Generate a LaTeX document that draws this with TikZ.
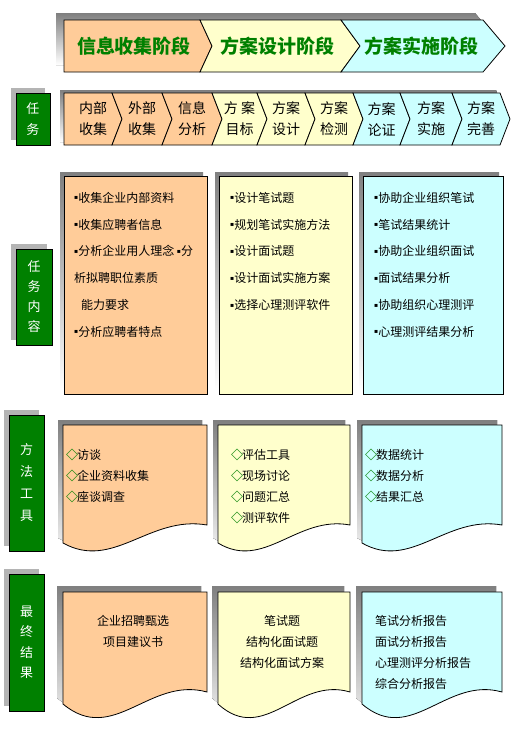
\documentclass[tikz,border=0pt]{standalone}
\usepackage{fontspec}
\setmainfont{Noto Sans CJK SC}
\newfontfamily\symfont{DejaVu Sans}
\usetikzlibrary{positioning,shadows}

\definecolor{peach}{HTML}{FFCC99}
\definecolor{cream}{HTML}{FFFFCC}
\definecolor{aqua}{HTML}{CCFFFF}
\definecolor{leaf}{HTML}{008000}
\definecolor{shade}{HTML}{B4B4B4}

\newcommand{\bul}{\raisebox{2.5pt}{\symfont\fontsize{6}{6}\selectfont ▪}}
\newcommand{\dia}{\textcolor{leaf}{\bfseries ◇}\hspace{-1pt}}

\begin{document}
\begin{tikzpicture}[x=1pt, y=-1pt,
    edge/.style={draw=black, line width=0.8pt},
    sidelabel/.style={fill=leaf, draw=black, line width=0.8pt, text=white, align=center, inner sep=0pt,
        general shadow={shadow xshift=-5pt, shadow yshift=5pt, fill=shade}},
    phasetext/.style={text=leaf, font=\bfseries\fontsize{19}{19}\selectfont},
    steptext/.style={align=center, inner sep=0pt, font=\fontsize{14}{21}\selectfont},
    itemlist/.style={anchor=north west, align=left, inner sep=0pt, font=\fontsize{12}{26.8}\selectfont},
    toollist/.style={anchor=north west, align=left, inner sep=0pt, font=\fontsize{12}{20.8}\selectfont},
    resultlist/.style={anchor=north, align=center, inner sep=0pt, font=\fontsize{12}{21}\selectfont}
]
\useasboundingbox (0,0) rectangle (525,740);

% stage banner
\fill[shade] (56,13) -- (475,13) -- (497,39) -- (475,65) -- (56,65) -- cycle;
\foreach \xa/\na/\xb/\nb/\fc in {64/0/200/12/peach, 200/12/341/19/cream, 341/19/483/22/aqua}
    \draw[edge, fill=\fc] (\xa,20) -- (\xb,20) -- (\xb+\nb,46) -- (\xb,72) -- (\xa,72) -- (\xa+\na,46) -- cycle;
\node[phasetext] (collect) at (134,46) {信息收集阶段};
\node[phasetext] (design) at (277,46) {方案设计阶段};
\node[phasetext] (implement) at (421,46) {方案实施阶段};

% task strip
\node[sidelabel, minimum width=34, minimum height=52, font=\fontsize{13}{21}\selectfont] (tasks) at (33,119) {任\\务};
\fill[shade] (60,90) -- (496,90) -- (506,116) -- (496,142) -- (60,142) -- cycle;
\foreach \xa/\na/\xb/\fc/\t [count=\i] in {64/0/112/peach/{内部\\收集}, 112/10/162/peach/{外部\\收集},
        162/10/212/peach/{信息\\分析}, 212/10/257/cream/{方 案\\目标}, 257/10/305/cream/{方案\\设计},
        305/10/353/cream/{方案\\检测}, 353/10/400/aqua/{方案\\论证}, 400/10/452/aqua/{方案\\实施},
        452/10/500/aqua/{方案\\完善}} {
    \draw[edge, fill=\fc] (\xa,93) -- (\xb,93) -- (\xb+10,119) -- (\xb,145) -- (\xa,145) -- (\xa+\na,119) -- cycle;
    \node[steptext] (step\i) at ({(\xa+\xb)/2+5},119) {\t};
}

% task content
\node[sidelabel, minimum width=36, minimum height=96, font=\fontsize{13}{20}\selectfont] (content) at (34,297) {任\\务\\内\\容};
\foreach \xa/\xb/\fc in {64/207/peach, 219/352/cream, 363/503/aqua} {
    \fill[shade] (\xa-4,172) rectangle (\xb-4,390);
    \draw[edge, fill=\fc] (\xa,176) rectangle (\xb,394);
}
\node[itemlist] (collectitems) at (74,192) {\bul 收集企业内部资料\\ \bul 收集应聘者信息\\ \bul 分析企业用人理念 \bul 分\\
    析拟聘职位素质\\ \hspace{7pt}能力要求\\ \bul 分析应聘者特点};
\node[itemlist] (designitems) at (230,192) {\bul 设计笔试题\\ \bul 规划笔试实施方法\\ \bul 设计面试题\\
    \bul 设计面试实施方案\\ \bul 选择心理测评软件};
\node[itemlist] (implitems) at (374,192) {\bul 协助企业组织笔试\\ \bul 笔试结果统计\\ \bul 协助企业组织面试\\
    \bul 面试结果分析\\ \bul 协助组织心理测评\\ \bul 心理测评结果分析};

% methods and tools
\node[sidelabel, minimum width=35, minimum height=136, font=\fontsize{13}{22}\selectfont] (methods) at (26.5,483) {方\\法\\工\\具};
\foreach \xa/\xb/\fc in {63/207/peach, 218/350/cream, 362/502/aqua} {
    \pgfmathsetmacro\ca{\xa+0.35*(\xb-\xa)}
    \pgfmathsetmacro\cb{\xa+0.6*(\xb-\xa)}
    \fill[shade, shift={(-5,-5)}] (\xa,425) -- (\xb,425) -- (\xb,525) .. controls (\cb,515) and (\ca,571) .. (\xa,543) -- cycle;
    \draw[edge, fill=\fc] (\xa,425) -- (\xb,425) -- (\xb,525) .. controls (\cb,515) and (\ca,571) .. (\xa,543) -- cycle;
}
\node[toollist] (collecttools) at (66,449) {\dia 访谈\\ \dia 企业资料收集\\ \dia 座谈调查};
\node[toollist] (designtools) at (231,449) {\dia 评估工具\\ \dia 现场讨论\\ \dia 问题汇总\\ \dia 测评软件};
\node[toollist] (impltools) at (365,449) {\dia 数据统计\\ \dia 数据分析\\ \dia 结果汇总};

% final results
\node[sidelabel, minimum width=35, minimum height=137, font=\fontsize{13}{20.5}\selectfont] (results) at (26.5,642.5) {最\\终\\结\\果};
\foreach \xa/\xb/\fc in {63/207/peach, 218/350/cream, 362/502/aqua} {
    \pgfmathsetmacro\ca{\xa+0.35*(\xb-\xa)}
    \pgfmathsetmacro\cb{\xa+0.6*(\xb-\xa)}
    \fill[shade, shift={(-6,-6)}] (\xa,592) -- (\xb,592) -- (\xb,692) .. controls (\cb,676) and (\ca,746) .. (\xa,704) -- cycle;
    \draw[edge, fill=\fc] (\xa,592) -- (\xb,592) -- (\xb,692) .. controls (\cb,676) and (\ca,746) .. (\xa,704) -- cycle;
}
\node[resultlist] (collectresult) at (133,615) {企业招聘甄选\\项目建议书};
\node[resultlist] (designresult) at (282,615) {笔试题\\结构化面试题\\结构化面试方案};
\node[toollist, font=\fontsize{12}{21}\selectfont] (implresult) at (375,615) {笔试分析报告\\面试分析报告\\心理测评分析报告\\综合分析报告};
\end{tikzpicture}
\end{document}
